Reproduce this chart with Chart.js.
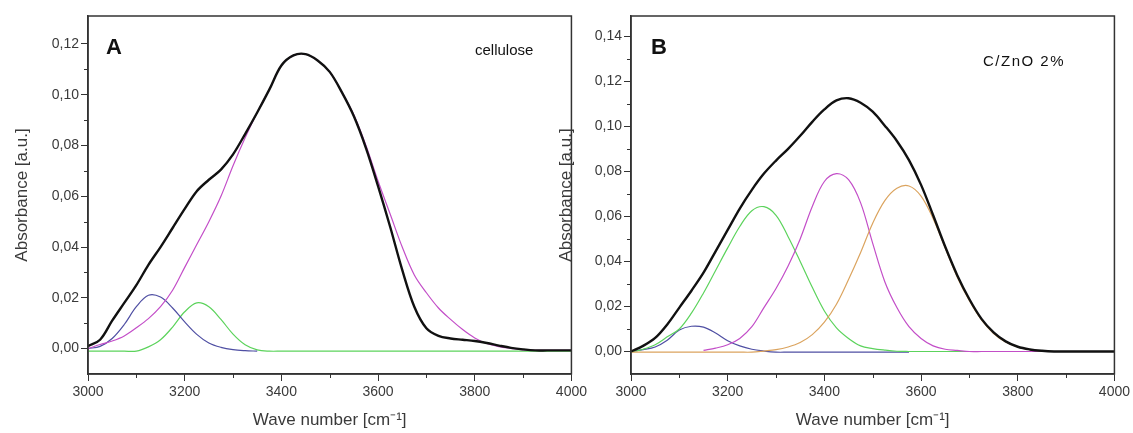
<!DOCTYPE html>
<html lang="en">
  <head>
    <meta charset="UTF-8" />
    <title>OH band deconvolution</title>
    <script src="https://cdn.jsdelivr.net/npm/chart.js@4"></script>
    <style>
      body { margin: 0; background: #fff; width: 1133px; height: 433px; position: relative; overflow: hidden; }
      canvas { position: absolute; top: 0; }
      #chartA { left: 0; }
      #chartB { left: 553px; }
    </style>
  </head>
  <body>
    <canvas id="chartA" width="590" height="433"></canvas>
    <canvas id="chartB" width="580" height="433"></canvas>

    <script>
      // wave numbers (cm-1), same grid for both panels
      const wave = [3000, 3025, 3050, 3075, 3100, 3125, 3150, 3175, 3200, 3225, 3250, 3275, 3300, 3325, 3350, 3375, 3400, 3425, 3450, 3475, 3500,
        3525, 3550, 3575, 3600, 3625, 3650, 3675, 3700, 3725, 3750, 3775, 3800, 3825, 3850, 3875, 3900, 3925, 3950, 3975, 4000];

      // panel A - cellulose
      const totalA = [0.001, 0.0035, 0.011, 0.018, 0.025, 0.033, 0.040, 0.0475, 0.055, 0.062, 0.0665, 0.0705, 0.0765, 0.0845, 0.093, 0.102, 0.1115, 0.1155, 0.116, 0.1135, 0.109,
        0.101, 0.0915, 0.079, 0.064, 0.048, 0.031, 0.0165, 0.008, 0.005, 0.004, 0.0035, 0.003, 0.0022, 0.0012, 0.0003, -0.0003, -0.0007, -0.0007, -0.0007, -0.0007];
      const magentaA = [0, 0.0016, 0.003, 0.005, 0.0082, 0.0118, 0.0165, 0.023, 0.032, 0.041, 0.050, 0.060, 0.072, 0.083, 0.093, 0.102, 0.1115, 0.1155, 0.116, 0.1135, 0.109,
        0.101, 0.092, 0.080, 0.066, 0.053, 0.040, 0.029, 0.022, 0.016, 0.0115, 0.0075, 0.0042, 0.002, 0.0008, 0.0001, -0.0005, -0.0007, -0.0007, -0.0007, -0.0007];
      const blueA = [0, 0.0009, 0.004, 0.0095, 0.0165, 0.021, 0.0203, 0.016, 0.0105, 0.0056, 0.0022, 0.0005, -0.0004, -0.0008, -0.001, null, null, null, null, null, null,
        null, null, null, null, null, null, null, null, null, null, null, null, null, null, null, null, null, null, null, null];
      const greenA = [-0.001, -0.001, -0.001, -0.001, -0.001, 0.0007, 0.0035, 0.0085, 0.0145, 0.018, 0.0165, 0.0115, 0.0057, 0.0015, -0.0005, -0.001, -0.001, -0.001, -0.001, -0.001, -0.001,
        -0.001, -0.001, -0.001, -0.001, -0.001, -0.001, -0.001, -0.001, -0.001, -0.001, -0.001, -0.001, -0.001, -0.001, -0.001, -0.001, -0.001, -0.001, -0.001, -0.001];

      // panel B - C/ZnO 2%
      const totalB = [0, 0.0025, 0.006, 0.012, 0.0195, 0.027, 0.035, 0.0445, 0.054, 0.0635, 0.0718, 0.079, 0.0848, 0.090, 0.0958, 0.102, 0.1075, 0.1115, 0.1125, 0.1105, 0.1065,
        0.1003, 0.0935, 0.085, 0.074, 0.0605, 0.0465, 0.0338, 0.0232, 0.0145, 0.0085, 0.0045, 0.0021, 0.0009, 0.0003, 0, 0, 0, 0, 0, 0];
      const greenB = [-0.0003, 0.001, 0.003, 0.0065, 0.010, 0.017, 0.026, 0.036, 0.046, 0.0555, 0.0625, 0.0643, 0.0605, 0.051, 0.040, 0.0285, 0.018, 0.0105, 0.0058, 0.0025, 0.0013,
        0.0006, 0.0001, 0, 0, 0, 0, 0, 0, null, null, null, null, null, null, null, null, null, null, null, null];
      const blueB = [0, 0.0008, 0.002, 0.005, 0.0095, 0.0112, 0.0108, 0.0082, 0.0048, 0.0025, 0.001, 0.0002, -0.0003, -0.0003, -0.0003, -0.0003, -0.0003, -0.0003, -0.0003, -0.0003, -0.0003,
        -0.0003, -0.0003, -0.0003, null, null, null, null, null, null, null, null, null, null, null, null, null, null, null, null, null];
      const magentaB = [null, null, null, null, null, null, 0.0005, 0.0015, 0.003, 0.0058, 0.011, 0.0195, 0.028, 0.038, 0.050, 0.0644, 0.0755, 0.079, 0.0763, 0.066, 0.048,
        0.031, 0.0195, 0.011, 0.0058, 0.0025, 0.001, 0.0005, 0, 0, 0, 0, 0, 0, 0, null, null, null, null, null, null];
      const orangeB = [-0.0003, -0.0003, -0.0003, -0.0003, -0.0003, -0.0003, -0.0003, -0.0003, -0.0003, -0.0003, -0.0003, 0.0002, 0.0008, 0.002, 0.004, 0.0075, 0.013, 0.021, 0.032, 0.044, 0.057,
        0.067, 0.0725, 0.0735, 0.069, 0.059, 0.046, 0.033, 0.0225, 0.014, 0.008, 0.0042, 0.002, 0.0008, 0.0002, null, null, null, null, null, null];

      // axis ticks
      const xTicks = [3000, 3200, 3400, 3600, 3800, 4000];
      const xMinor = [3100, 3300, 3500, 3700, 3900];
      const yTicksA = [0, 0.02, 0.04, 0.06, 0.08, 0.1, 0.12];
      const yMinorA = [0.01, 0.03, 0.05, 0.07, 0.09, 0.11];
      const yTicksB = [0, 0.02, 0.04, 0.06, 0.08, 0.1, 0.12, 0.14];
      const yMinorB = [0.01, 0.03, 0.05, 0.07, 0.09, 0.11, 0.13];

      const axisColor = "#333333";
      const textColor = "#3a3a3a";
      const fontFamily = "'Liberation Sans', Arial, sans-serif";

      const toPoints = (ys) => wave.map((x, i) => ({ x: x, y: ys[i] }));

      function line(ys, color, width) {
        return {
          data: toPoints(ys),
          borderColor: color,
          borderWidth: width,
          pointRadius: 0,
          tension: 0.35,
          spanGaps: false,
          fill: false,
        };
      }

      // box round the plot area + short minor ticks + panel texts
      const framePlugin = {
        id: "frame",
        afterDraw(chart, args, opts) {
          const { ctx, chartArea: a, scales } = chart;
          ctx.save();
          ctx.strokeStyle = axisColor;
          ctx.lineWidth = 1.5;
          ctx.strokeRect(a.left, a.top, a.right - a.left, a.bottom - a.top);
          ctx.lineWidth = 1;
          ctx.beginPath();
          opts.xMinor.forEach((v) => {
            const px = Math.round(scales.x.getPixelForValue(v)) + 0.5;
            ctx.moveTo(px, a.bottom);
            ctx.lineTo(px, a.bottom + 4);
          });
          opts.yMinor.forEach((v) => {
            const py = Math.round(scales.y.getPixelForValue(v)) + 0.5;
            ctx.moveTo(a.left, py);
            ctx.lineTo(a.left - 4, py);
          });
          ctx.stroke();
          ctx.fillStyle = "#111";
          ctx.textBaseline = "alphabetic";
          opts.notes.forEach((n) => {
            ctx.font = n.font;
            ctx.letterSpacing = n.spacing || "0px";
            ctx.fillText(n.text, a.left + n.dx, a.top + n.dy);
          });
          ctx.restore();
        },
      };

      function makeChart(id, datasets, yMax, yTicks, yMinor, yWidth, yTitlePad, notes) {
        return new Chart(document.getElementById(id), {
          type: "line",
          data: { datasets: datasets },
          plugins: [framePlugin],
          options: {
            responsive: false,
            animation: false,
            events: [],
            layout: { padding: { top: 16, right: 15, left: 0, bottom: 0 } },
            plugins: {
              legend: { display: false },
              tooltip: { enabled: false },
              frame: { xMinor: xMinor, yMinor: yMinor, notes: notes },
            },
            scales: {
              x: {
                type: "linear",
                min: 3000,
                max: 4000,
                afterBuildTicks: (s) => { s.ticks = xTicks.map((v) => ({ value: v })); },
                afterFit: (s) => { s.height = 59; },
                grid: { drawOnChartArea: false, drawTicks: true, tickLength: 7, tickColor: axisColor, tickWidth: 1 },
                border: { display: true, color: axisColor, width: 1.5 },
                ticks: {
                  autoSkip: false,
                  maxRotation: 0,
                  padding: 3,
                  color: textColor,
                  font: { family: fontFamily, size: 14 },
                  callback: (v) => String(v),
                },
                title: {
                  display: true,
                  text: "Wave number [cm⁻¹]",
                  color: textColor,
                  font: { family: fontFamily, size: 17 },
                  padding: { top: 0, bottom: 2 },
                },
              },
              y: {
                min: -0.01,
                max: yMax,
                afterBuildTicks: (s) => { s.ticks = yTicks.map((v) => ({ value: v })); },
                afterFit: (s) => { s.width = yWidth; },
                grid: { drawOnChartArea: false, drawTicks: true, tickLength: 7, tickColor: axisColor, tickWidth: 1 },
                border: { display: true, color: axisColor, width: 1.5 },
                ticks: {
                  padding: 2,
                  color: textColor,
                  font: { family: fontFamily, size: 14 },
                  callback: (v) => v.toFixed(2).replace(".", ","),
                },
                title: {
                  display: true,
                  text: "Absorbance [a.u.]",
                  color: textColor,
                  font: { family: fontFamily, size: 17 },
                  padding: { top: yTitlePad, bottom: 0 },
                },
              },
            },
          },
        });
      }

      makeChart(
        "chartA",
        [
          line(totalA, "#111111", 2.4),
          line(magentaA, "#c34ec8", 1.2),
          line(blueA, "#4f4fa3", 1.2),
          line(greenA, "#5cd35c", 1.2),
        ],
        0.131, yTicksA, yMinorA, 88, 12,
        [
          { text: "A", dx: 18, dy: 38, font: "bold 22px " + fontFamily },
          { text: "cellulose", dx: 387, dy: 39, font: "15px " + fontFamily },
        ]
      );

      makeChart(
        "chartB",
        [
          line(totalB, "#111111", 2.4),
          line(orangeB, "#dba45f", 1.2),
          line(magentaB, "#c34ec8", 1.2),
          line(greenB, "#5cd35c", 1.2),
          line(blueB, "#4f4fa3", 1.2),
        ],
        0.149, yTicksB, yMinorB, 78, 3,
        [
          { text: "B", dx: 20, dy: 38, font: "bold 22px " + fontFamily },
          { text: "C/ZnO 2%", dx: 352, dy: 50, font: "15px " + fontFamily, spacing: "1.5px" },
        ]
      );
    </script>
  </body>
</html>
